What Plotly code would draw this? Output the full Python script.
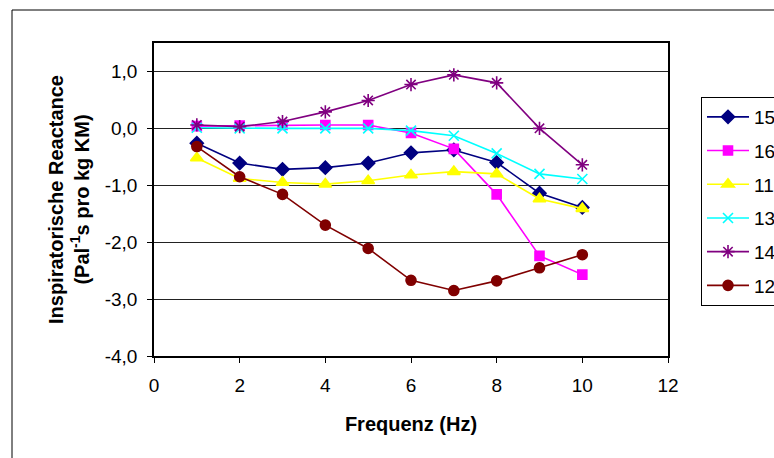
import plotly.graph_objects as go

# Frequencies (Hz) and inspiratory reactance per animal
freq = [1, 2, 3, 4, 5, 6, 7, 8, 9, 10]

names = ["15", "16", "11", "13", "14", "12"]
r15 = [-0.26, -0.61, -0.72, -0.69, -0.61, -0.43, -0.38, -0.60, -1.14, -1.39]
r16 = [0.04, 0.05, 0.06, 0.06, 0.06, -0.08, -0.36, -1.16, -2.24, -2.57]
r11 = [-0.52, -0.88, -0.95, -0.98, -0.92, -0.82, -0.76, -0.80, -1.24, -1.41]
r13 = [0.01, 0.0, 0.0, 0.0, 0.0, -0.04, -0.13, -0.44, -0.80, -0.89]
r14 = [0.06, 0.03, 0.12, 0.29, 0.49, 0.77, 0.94, 0.80, 0.0, -0.64]
r12 = [-0.32, -0.85, -1.16, -1.70, -2.11, -2.67, -2.85, -2.68, -2.45, -2.22]

series = [r15, r16, r11, r13, r14, r12]
colors = ["#000080", "#FF00FF", "#FFFF00", "#00FFFF", "#800080", "#800000"]
symbols = ["diamond", "square", "triangle-up", "x-thin-open", "asterisk-open", "circle"]
sizes = [10, 9, 11, 10, 11, 10]

x_ticks = [0, 2, 4, 6, 8, 10, 12]
y_ticks = [-4, -3, -2, -1, 0, 1]
y_labels = ["-4,0", "-3,0", "-2,0", "-1,0", "0,0", "1,0"]

FONT = "Liberation Sans, Arial, sans-serif"

fig = go.Figure()
for i, (name, vals) in enumerate(zip(names, series)):
    fig.add_trace(go.Scatter(
        x=freq, y=vals, name=name, mode="lines+markers",
        legendgroup=name,
        line=dict(color=colors[i], width=1.6),
        marker=dict(symbol=symbols[i], size=sizes[i], color=colors[i],
                    line=dict(color=colors[i], width=1.6)),
    ))

# margins in pixels (plot area 154..668 x 43..356 in a 774x458 page)
L, R, T, B = 154, 106, 43, 102
W, H = 774, 458
pw, ph = W - L - R, H - T - B


def px(x):
    return (x - L) / pw


def py(y):
    return (H - B - y) / ph


fig.update_layout(
    width=W, height=H,
    margin=dict(l=L, r=R, t=T, b=B, autoexpand=False),
    paper_bgcolor="white", plot_bgcolor="white",
    font=dict(family=FONT, size=19, color="black"),
    showlegend=True,
    legend=dict(
        x=px(701), y=py(97), xanchor="left", yanchor="top",
        bordercolor="black", borderwidth=1, bgcolor="white",
        font=dict(family=FONT, size=19, color="black"),
        tracegroupgap=6, itemwidth=42,
        entrywidth=70, entrywidthmode="pixels",
    ),
    xaxis=dict(
        range=[0, 12], tickvals=x_ticks, ticks="outside", ticklen=5,
        tickcolor="black", showline=True, linecolor="black", linewidth=1.5,
        mirror=True, showgrid=False, zeroline=False,
        tickfont=dict(family=FONT, size=19), ticklabelstandoff=6,
        title=dict(text="Frequenz (Hz)", standoff=22,
                   font=dict(family=FONT, size=20, weight="bold")),
    ),
    yaxis=dict(
        range=[-4, 1.5], tickvals=y_ticks, ticktext=y_labels, ticks="outside",
        ticklen=5, tickcolor="black", showline=True, linecolor="black",
        linewidth=1.5, mirror=True, showgrid=True, gridcolor="#222222",
        gridwidth=1, zeroline=False,
        tickfont=dict(family=FONT, size=19), ticklabelstandoff=6,
        title=dict(text="Inspiratorische Reactance<br>(Pal<sup>-1</sup>s pro kg KM)",
                   standoff=10, font=dict(family=FONT, size=20, weight="bold")),
    ),
    shapes=[
        # outer chart frame
        dict(type="rect", xref="paper", yref="paper",
             x0=px(12), x1=px(800), y0=py(480), y1=py(10),
             line=dict(color="black", width=1), layer="below"),
    ],
)

fig.write_html("out.html")
